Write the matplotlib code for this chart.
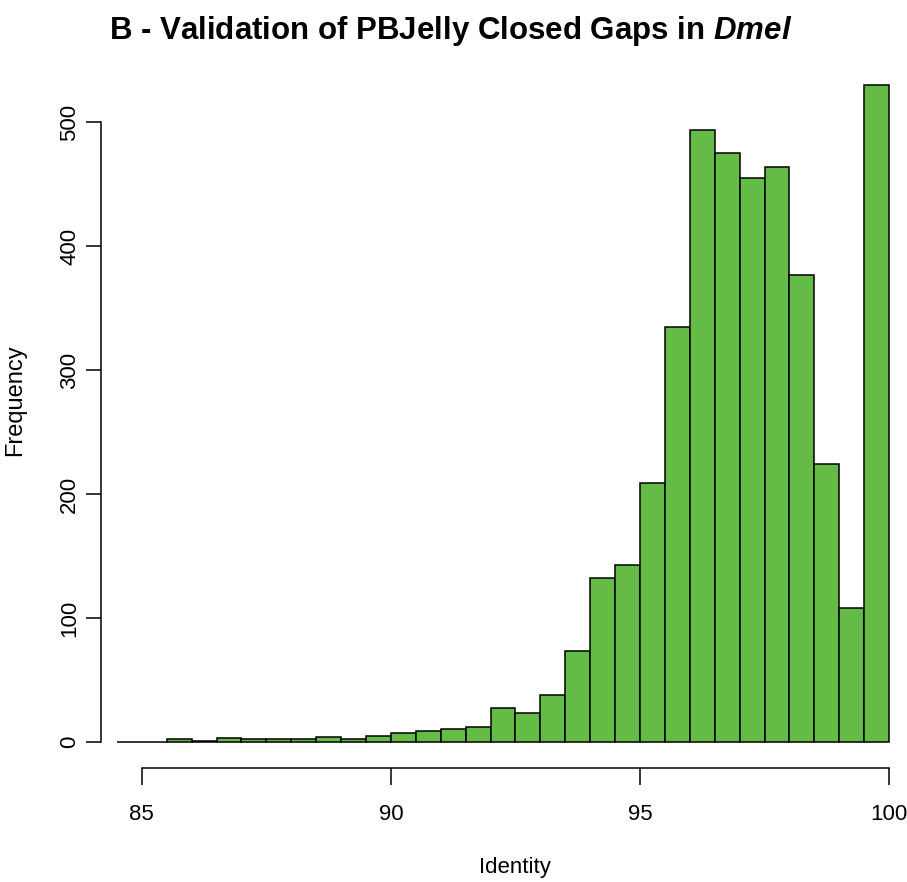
import numpy as np
import matplotlib
matplotlib.use('Agg')
import matplotlib.pyplot as plt

plt.rcParams['font.family'] = ['Liberation Sans', 'DejaVu Sans']
plt.rcParams['mathtext.fontset'] = 'custom'
plt.rcParams['mathtext.bfit'] = 'Liberation Sans:italic:bold'

# histogram of identity values, bins of 0.5 from 84.5 to 100
bin_left = [84.5, 85.0, 85.5, 86.0, 86.5, 87.0, 87.5, 88.0, 88.5, 89.0,
            89.5, 90.0, 90.5, 91.0, 91.5, 92.0, 92.5, 93.0, 93.5, 94.0,
            94.5, 95.0, 95.5, 96.0, 96.5, 97.0, 97.5, 98.0, 98.5, 99.0,
            99.5]
counts = [0, 0, 2, 1, 3, 2, 2, 2, 4, 2,
          5, 7, 9, 10, 12, 27, 23, 38, 73, 132,
          143, 209, 335, 494, 475, 455, 464, 377, 224, 108,
          530]
x_ticks = [85, 90, 95, 100]
y_ticks = [0, 100, 200, 300, 400, 500]

W, H = 907, 882
fig = plt.figure(figsize=(W / 100, H / 100), dpi=100)
fig.patch.set_facecolor('white')

# plot region in pixels (left, right, top, bottom)
L, R, T, B = 101, 905, 59, 768
ax = fig.add_axes([L / W, 1 - B / H, (R - L) / W, (B - T) / H])

ax.bar(bin_left, counts, width=0.5, align='edge',
       color='#64BC46', edgecolor='black', linewidth=1.1)

ax.set_xlim(84.18, 100.32)
ax.set_ylim(-21.2, 551.2)

for s in ['top', 'right']:
    ax.spines[s].set_visible(False)
ax.spines['left'].set_bounds(0, 500)
ax.spines['bottom'].set_bounds(85, 100)
for s in ['left', 'bottom']:
    ax.spines[s].set_linewidth(1.1)

ax.set_xticks(x_ticks)
ax.set_yticks(y_ticks)
ax.set_xticklabels([str(v) for v in x_ticks], fontsize=16)
ax.set_yticklabels([str(v) for v in y_ticks], fontsize=16, rotation=90, va='center')
ax.tick_params(axis='x', length=12, width=1.1, pad=14)
ax.tick_params(axis='y', length=11, width=1.1, pad=4)

fig.text(451 / W, 1 - 31 / H, r'B - Validation of PBJelly Closed Gaps in $\mathbfit{Dmel}$',
         ha='center', va='center', fontsize=22.5, fontweight='bold')
fig.text(15 / W, 1 - 400 / H, 'Frequency', rotation=90, ha='center', va='center', fontsize=17)
fig.text(515 / W, 1 - 867 / H, 'Identity', ha='center', va='center', fontsize=16)

fig.savefig('out.png', dpi=100, facecolor='white')
